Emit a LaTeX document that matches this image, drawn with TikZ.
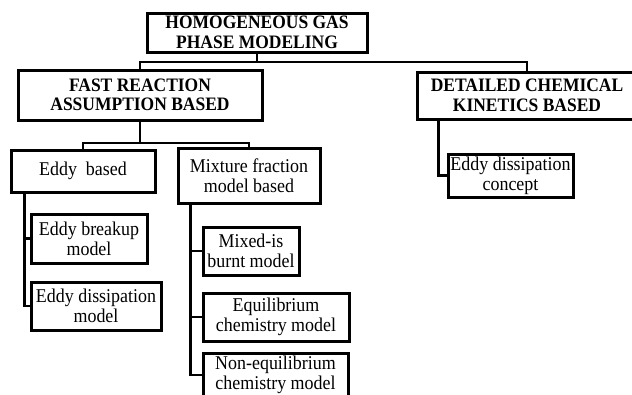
\documentclass[tikz,border=0pt]{standalone}
\usepackage{fontspec}
\setmainfont{Liberation Serif}
\newfontfamily\boxfont[FakeStretch=0.92]{Liberation Serif}
\usepackage{tikz}

\begin{document}
\begin{tikzpicture}[
		x=1pt, y=-1pt,
		every node/.style={rectangle, draw, line width=3pt, inner sep=0pt, align=center},
		head/.style={font=\boxfont\fontsize{19}{19.5}\selectfont\bfseries},
		leaf/.style={font=\boxfont\fontsize{19.5}{20}\selectfont},
		link/.style={line width=2.6pt}
	]
  \useasboundingbox (0, 0) rectangle (632, 394);
  \node (top) [head, minimum width=220pt, minimum height=39pt] at (257, 32.5) {HOMOGENEOUS GAS\\PHASE MODELING};
  \node (fast) [head, minimum width=244pt, minimum height=50pt] at (140, 95) {FAST REACTION\\ASSUMPTION BASED};
  \node (detailed) [head, minimum width=220pt, minimum height=47pt] at (527, 95.5) {DETAILED CHEMICAL\\KINETICS BASED};
  \node (eddy) [leaf, minimum width=144pt, minimum height=42pt] at (83, 171) {Eddy\ \ based};
  \node (mixture) [leaf, minimum width=142pt, minimum height=55pt] at (249, 175.5) {Mixture fraction\\model based};
  \node (breakup) [leaf, minimum width=116pt, minimum height=49pt] at (89, 238.5) {Eddy breakup\\model};
  \node (dissmodel) [leaf, minimum width=130pt, minimum height=48pt] at (96, 306) {Eddy dissipation\\model};
  \node (mixedis) [leaf, minimum width=96pt, minimum height=48pt] at (251, 251) {Mixed-is\\burnt model};
  \node (equil) [leaf, minimum width=146pt, minimum height=48pt] at (276, 317) {Equilibrium\\chemistry model};
  \node (noneq) [leaf, minimum width=145pt, minimum height=44pt] at (275.5, 375) {Non-equilibrium\\chemistry model};
  \node (edc) [leaf, minimum width=125pt, minimum height=43pt] at (510.5, 175.5) {Eddy dissipation\\concept};
  \coordinate (j1) at (top.south |- 0, 62);
  \coordinate (j2) at (fast.south |- 0, 143);
  \draw [link] (top.south) -- (j1);
  \draw [link] (fast.north) |- (j1) -| (detailed.north);
  \draw [link] (fast.south) -- (j2);
  \draw [link] (eddy.north) |- (j2) -| (mixture.north);
  \draw [link] ([xshift=15pt]eddy.south west) |- (breakup.west);
  \draw [link] ([xshift=15pt]eddy.south west) |- (dissmodel.west);
  \draw [link] ([xshift=14pt]mixture.south west) |- (mixedis.west);
  \draw [link] ([xshift=14pt]mixture.south west) |- (equil.west);
  \draw [link] ([xshift=14pt]mixture.south west) |- (noneq.west);
  \draw [link] ([xshift=23pt]detailed.south west) |- (edc.west);
\end{tikzpicture}
\end{document}
